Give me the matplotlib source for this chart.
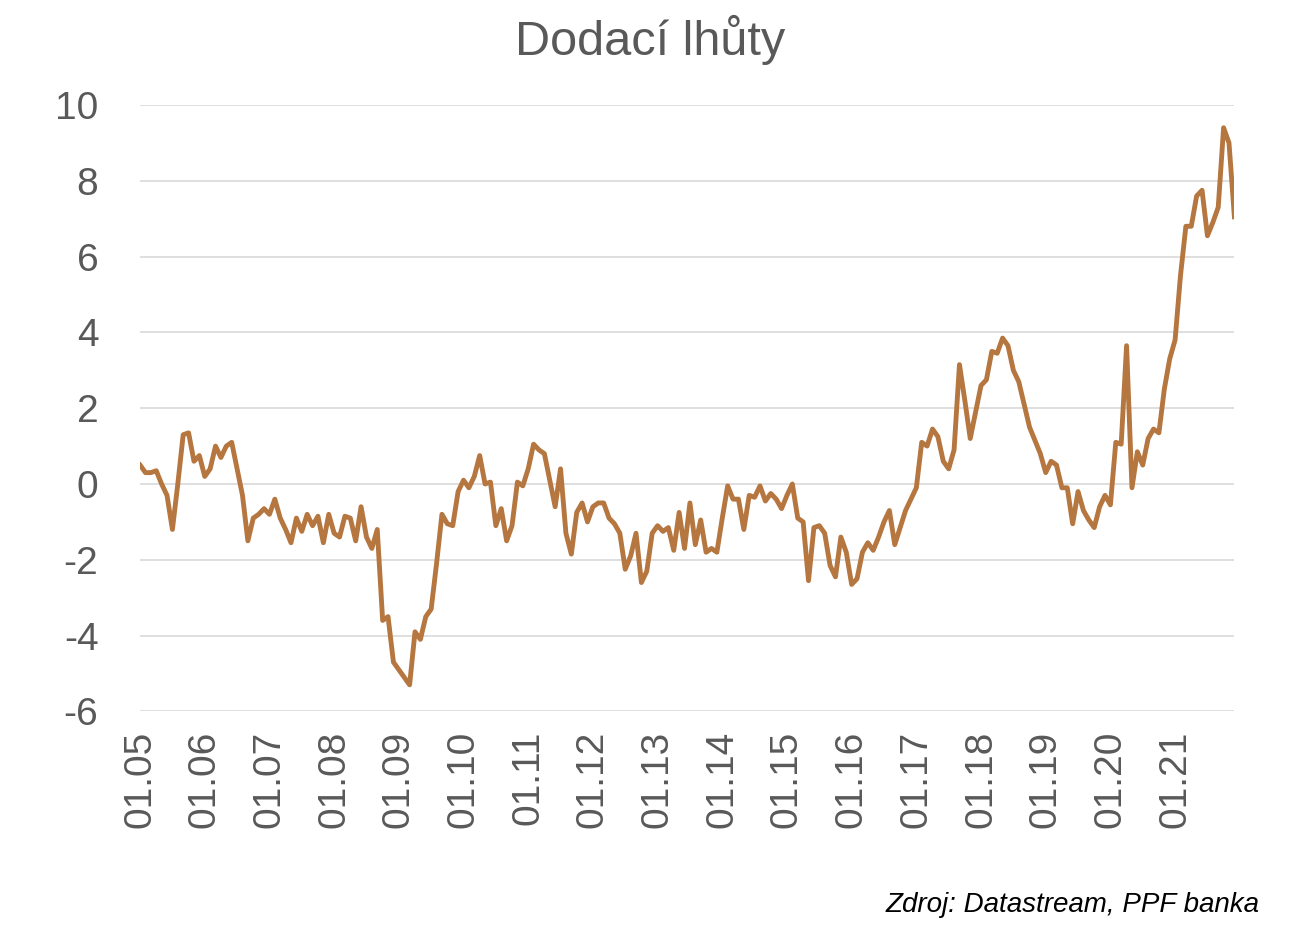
import matplotlib
matplotlib.use("Agg")
import matplotlib.pyplot as plt
import numpy as np

values = [
0.5,0.3,0.3,0.35,0,-0.3,-1.2,0,1.3,1.35,0.6,0.75,
0.2,0.4,1.0,0.7,1.0,1.1,0.4,-0.3,-1.5,-0.9,-0.8,-0.65,
-0.8,-0.4,-0.9,-1.2,-1.55,-0.9,-1.25,-0.8,-1.1,-0.85,-1.55,-0.8,
-1.3,-1.4,-0.85,-0.9,-1.5,-0.6,-1.4,-1.7,-1.2,-3.6,-3.5,-4.7,
-4.9,-5.1,-5.3,-3.9,-4.1,-3.5,-3.3,-2.1,-0.8,-1.05,-1.1,-0.2,
0.1,-0.1,0.2,0.75,0.0,0.05,-1.1,-0.65,-1.5,-1.1,0.05,-0.05,
0.4,1.05,0.9,0.8,0.1,-0.6,0.4,-1.3,-1.85,-0.75,-0.5,-1.0,
-0.6,-0.5,-0.5,-0.9,-1.05,-1.3,-2.25,-1.9,-1.3,-2.6,-2.3,-1.3,
-1.1,-1.25,-1.15,-1.75,-0.75,-1.7,-0.5,-1.6,-0.95,-1.8,-1.7,-1.8,
-0.9,-0.05,-0.4,-0.4,-1.2,-0.3,-0.35,-0.05,-0.45,-0.25,-0.4,-0.65,
-0.3,0.0,-0.9,-1.0,-2.55,-1.15,-1.1,-1.3,-2.15,-2.45,-1.4,-1.8,
-2.65,-2.5,-1.8,-1.55,-1.75,-1.4,-1.0,-0.7,-1.6,-1.15,-0.7,-0.4,
-0.1,1.1,1.0,1.45,1.25,0.6,0.4,0.9,3.15,2.2,1.2,1.9,
2.6,2.75,3.5,3.45,3.85,3.65,3.0,2.7,2.1,1.5,1.15,0.8,
0.3,0.6,0.5,-0.1,-0.1,-1.05,-0.2,-0.7,-0.95,-1.15,-0.6,-0.3,
-0.55,1.1,1.05,3.65,-0.1,0.85,0.5,1.2,1.45,1.35,2.5,3.3,
3.8,5.5,6.8,6.8,7.6,7.75,6.55,6.9,7.3,9.4,9.0,7.05,
]
tick_labels = ["01.%02d" % y for y in range(5, 22)]

plt.rcParams["axes.unicode_minus"] = False
gray = "#595959"
fig = plt.figure(figsize=(13.09, 9.46), dpi=100)
ax = fig.add_axes([0.107, 0.248, 0.836, 0.641])
x = np.arange(len(values))
ax.plot(x, values, color="#B5763F", lw=3.5)
ax.set_xlim(0, len(values) - 1)
ax.set_ylim(-6, 10)
ax.set_yticks(range(-6, 11, 2))
ax.set_xticks(np.arange(len(tick_labels)) * 12)
ax.set_xticklabels(tick_labels, rotation=90)
ax.grid(axis="y", color="#D9D9D9", lw=1.2)
ax.set_axisbelow(True)
for s in ax.spines.values():
    s.set_visible(False)
ax.tick_params(axis="y", length=0, labelsize=28, colors=gray, pad=30)
ax.tick_params(axis="x", length=0, labelsize=28, colors=gray, pad=14)
for lab in ax.get_yticklabels() + ax.get_xticklabels():
    lab.set_fontfamily("Liberation Sans")
fig.text(0.497, 0.958, "Dodací lhůty", ha="center", va="center", fontsize=35,
         color=gray, family="Liberation Sans")
fig.text(0.962, 0.043, "Zdroj: Datastream, PPF banka", ha="right", va="center",
         fontsize=20, style="italic", color="black", family="Liberation Sans")
fig.savefig("out.png", dpi=100)
